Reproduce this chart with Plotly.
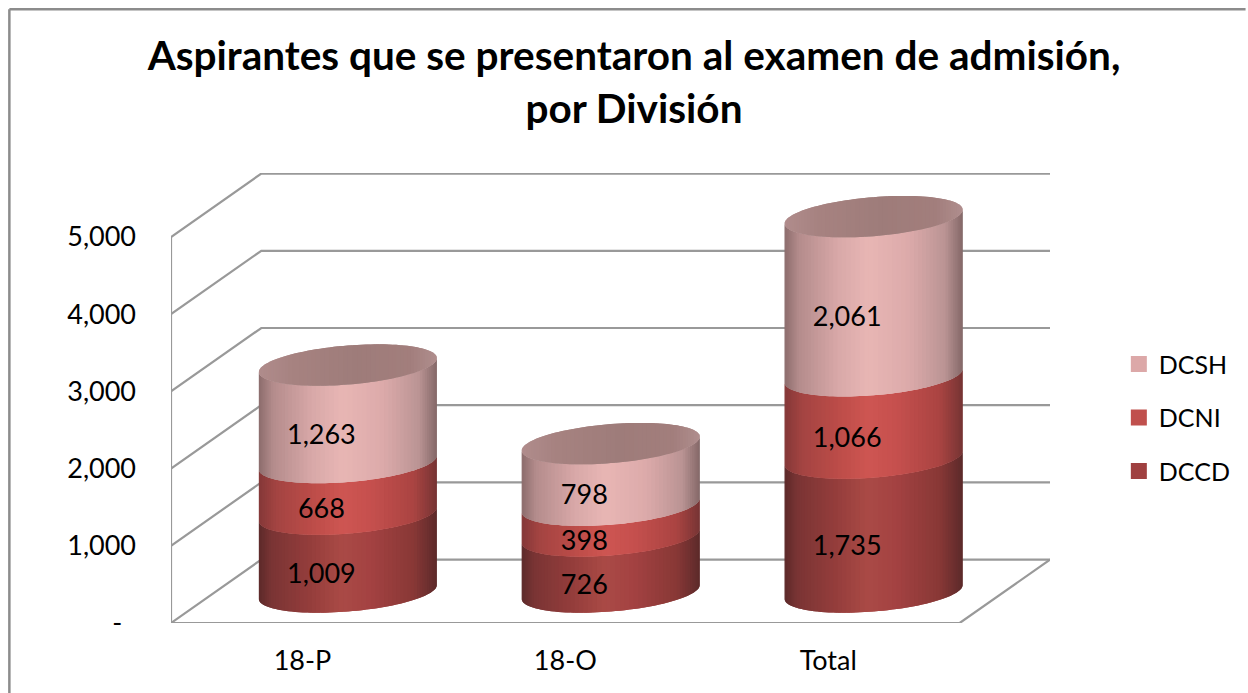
import math
import plotly.graph_objects as go

categories = ["18-P", "18-O", "Total"]
series_names = ["DCCD", "DCNI", "DCSH"]
dccd = [1009, 726, 1735]
dcni = [668, 398, 1066]
dcsh = [1263, 798, 2061]
value_labels = {"DCCD": ["1,009", "726", "1,735"], "DCNI": ["668", "398", "1,066"], "DCSH": ["1,263", "798", "2,061"]}
y_ticks = [0, 1000, 2000, 3000, 4000, 5000]
y_tick_text = ["-\u00a0\u00a0", "1,000", "2,000", "3,000", "4,000", "5,000"]

W, H = 1248, 693
L, R, T, B = 171.0, 1052.0, 172.7, 622.7
PXX = (961.5 - L) / 3           # px per category
PXY = 77.2 / 1000               # px per value
XMIN = 0.5
XMAX = XMIN + (R - L) / PXX
YMAX = (B - T) / PXY
DEPTH_X = (R - 961.5) / PXX
DEPTH_Y = (B - 559.3) / PXY
CYL_DX = 45.5 / PXX
CYL_DY = 31.0 / PXY
LAB_DX = 19.0 / PXX
LAB_DY = 23.0 / PXY
RAD = 89.2 / PXX
EB = 19.5 / PXY
ES = 7.0 / PXY
FONT = "Lato"
GRID = "#999999"
N = 60

ramps = {
    "DCCD": [(0, (92, 42, 42)), (.07, (122, 52, 52)), (.3, (150, 62, 60)), (.47, (170, 74, 70)), (.62, (164, 66, 66)), (.87, (136, 56, 54)), (1, (92, 42, 42))],
    "DCNI": [(0, (132, 56, 56)), (.1, (164, 68, 66)), (.3, (188, 76, 72)), (.47, (206, 86, 82)), (.62, (198, 80, 78)), (.87, (170, 68, 66)), (1, (118, 52, 52))],
    "DCSH": [(0, (140, 108, 108)), (.08, (180, 140, 140)), (.3, (216, 168, 168)), (.47, (232, 182, 180)), (.7, (220, 170, 170)), (.9, (186, 148, 148)), (1, (132, 104, 104))],
    "TOP": [(0, (176, 140, 140)), (.2, (166, 130, 128)), (.55, (158, 124, 122)), (.85, (162, 126, 124)), (1, (176, 142, 142))],
}
legend_colors = {"DCCD": "#9f4040", "DCNI": "#c0504d", "DCSH": "#dca8a8"}


def ramp(name, f):
    st = ramps[name]
    for (a, ca), (b, cb) in zip(st, st[1:]):
        if f <= b:
            w = (f - a) / (b - a)
            c = [round(p + (q - p) * w) for p, q in zip(ca, cb)]
            return f"rgb({c[0]},{c[1]},{c[2]})"
    return "rgb(%d,%d,%d)" % st[-1][1]


def strip(x, y, color):
    return go.Scatter(x=x, y=y, mode="none", fill="toself", fillcolor=color,
                      hoverinfo="skip", showlegend=False, cliponaxis=False)


fig = go.Figure()

# Walls and floor, built from the axis ticks
for v in y_ticks:
    fig.add_trace(go.Scatter(
        x=[XMIN, XMIN + DEPTH_X, XMAX], y=[v, v + DEPTH_Y, v + DEPTH_Y], mode="lines",
        line=dict(color=GRID, width=2.2), hoverinfo="skip", showlegend=False, cliponaxis=False))
fig.add_trace(go.Scatter(x=[XMIN, XMIN], y=[0, y_ticks[-1]], mode="lines", line=dict(color=GRID, width=2.2),
                         hoverinfo="skip", showlegend=False, cliponaxis=False))
fig.add_trace(go.Scatter(x=[XMIN, XMAX - DEPTH_X, XMAX], y=[0, 0, DEPTH_Y], mode="lines",
                         line=dict(color=GRID, width=2.2), hoverinfo="skip", showlegend=False, cliponaxis=False))

us = [-math.cos(math.pi * i / N) for i in range(N + 1)]
lab_x, lab_y, lab_t = [], [], []
stacks = {"DCCD": dccd, "DCNI": dcni, "DCSH": dcsh}


def front(u, v):
    return v + CYL_DY + ES * u - EB * math.sqrt(max(0, 1 - u * u))


for i in range(len(categories)):
    cx = i + 1 + CYL_DX
    base = 0
    for name in series_names:
        top = base + stacks[name][i]
        for j in range(N):
            # each strip runs under the next one, so no seams show between them
            a, m, b = us[j], us[j + 1], us[min(j + 2, N)]
            f = ((a + m) / 2 + 1) / 2
            xs = [cx + RAD * u for u in (a, m, b, b, m, a, a)]
            ys = [front(a, base), front(m, base), front(b, base), front(b, top), front(m, top), front(a, top), front(a, base)]
            fig.add_trace(strip(xs, ys, ramp(name, f)))
        lab_x.append(i + 1 + LAB_DX)
        lab_y.append((base + top) / 2 + CYL_DY - LAB_DY)
        lab_t.append(value_labels[name][i])
        base = top
    # cap
    c = base + CYL_DY
    for j in range(N):
        a, m, b = us[j], us[j + 1], us[min(j + 2, N)]
        f = ((a + m) / 2 + 1) / 2
        low = [c + ES * u - EB * math.sqrt(max(0, 1 - u * u)) for u in (a, m, b)]
        up = [c + ES * u + EB * math.sqrt(max(0, 1 - u * u)) for u in (b, m, a)]
        xs = [cx + RAD * u for u in (a, m, b, b, m, a, a)]
        fig.add_trace(strip(xs, low + up + [low[0]], ramp("TOP", f)))

fig.add_trace(go.Scatter(x=lab_x, y=lab_y, text=lab_t, mode="text",
                         textfont=dict(family=FONT, size=27, color="#000000"), hoverinfo="skip",
                         showlegend=False, cliponaxis=False))

for name in reversed(series_names):
    fig.add_trace(go.Scatter(x=[None], y=[None], mode="markers", name=name, legendgroup=name,
                             marker=dict(symbol="square", size=16, color=legend_colors[name])))

px = lambda p: (p - L) / (R - L)
py = lambda p: (B - p) / (B - T)
border = dict(color="#8c8c8c", width=2.5)
fig.add_shape(type="line", xref="paper", yref="paper", x0=px(9), x1=px(W), y0=py(9), y1=py(9), line=border)
fig.add_shape(type="line", xref="paper", yref="paper", x0=px(9), x1=px(9), y0=py(9), y1=py(H), line=border)

fig.update_layout(
    width=W, height=H, autosize=False,
    margin=dict(l=L, r=W - R, t=T, b=H - B, pad=0),
    paper_bgcolor="white", plot_bgcolor="white",
    title=dict(text="Aspirantes que se presentaron al examen de admisión,<br>por División",
               font=dict(family=FONT, size=40.5, color="#000000", weight="bold"),
               x=634 / W, xanchor="center", y=1 - 70 / H, yanchor="top"),
    xaxis=dict(range=[XMIN, XMAX], tickmode="array", tickvals=[1, 2, 3], ticktext=categories,
               showgrid=False, zeroline=False, showline=False, ticks="", ticklabelstandoff=19,
               tickfont=dict(family=FONT, size=27, color="#000000")),
    yaxis=dict(range=[0, YMAX], tickmode="array", tickvals=y_ticks, ticktext=y_tick_text,
               showgrid=False, zeroline=False, showline=False, ticks="", ticklabelstandoff=34,
               tickfont=dict(family=FONT, size=27, color="#000000")),
    legend=dict(x=px(1121), xanchor="left", y=py(341), yanchor="top", traceorder="grouped",
                tracegroupgap=18, bgcolor="rgba(0,0,0,0)",
                font=dict(family=FONT, size=25, color="#000000")),
)

fig.write_html("out.html", config={"displayModeBar": False},
               post_script="document.body.style.margin='0';document.body.style.overflow='hidden';")
